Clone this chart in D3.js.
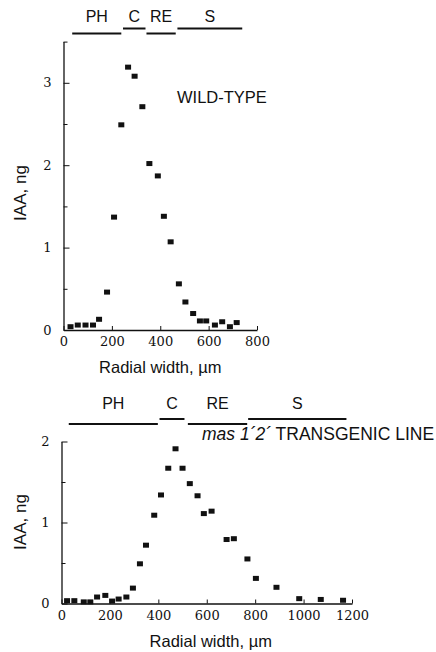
<!DOCTYPE html>
<html>
<head>
<meta charset="utf-8">
<script src="https://cdn.jsdelivr.net/npm/d3@7"></script>
<style>
  body { margin: 0; background: #fff; }
  svg { display: block; }
  .lbl { font-family: "Liberation Sans", Arial, sans-serif; fill: #111; }
</style>
</head>
<body>
<div id="chart"></div>
<script>
// wild-type: radial width (um) and IAA (ng)
const wtWidth = [29, 59, 91, 122, 147, 180, 209, 239, 267, 294, 326, 355, 390, 415, 443, 477, 504, 536, 564, 590, 626, 656, 688, 716];
const wtIAA = [0.04, 0.06, 0.06, 0.06, 0.13, 0.46, 1.37, 2.49, 3.19, 3.08, 2.71, 2.02, 1.87, 1.38, 1.07, 0.56, 0.34, 0.20, 0.11, 0.11, 0.06, 0.10, 0.04, 0.09];

// mas 1'2' transgenic line
const tgWidth = [23, 53, 92, 119, 147, 181, 209, 236, 268, 295, 324, 349, 383, 411, 441, 471, 500, 530, 562, 588, 620, 682, 712, 768, 803, 888, 982, 1071, 1163];
const tgIAA = [0.035, 0.035, 0.02, 0.02, 0.08, 0.10, 0.03, 0.055, 0.08, 0.19, 0.49, 0.72, 1.09, 1.34, 1.67, 1.91, 1.67, 1.48, 1.33, 1.11, 1.14, 0.79, 0.80, 0.55, 0.31, 0.20, 0.06, 0.05, 0.04];

// tissue zones (um)
const zoneNames = ["PH", "C", "RE", "S"];
const wtZones = [[36, 239], [246, 339], [343, 464], [471, 739]];
const tgZones = [[30, 398], [405, 508], [522, 767], [771, 1177]];

const wtXTicks = [0, 200, 400, 600, 800];
const wtYTicks = [0, 1, 2, 3];
const tgXTicks = [0, 200, 400, 600, 800, 1000, 1200];
const tgYTicks = [0, 1, 2];

const svg = d3.select("#chart").append("svg")
    .attr("width", 436)
    .attr("height", 652);

svg.append("rect").attr("width", 436).attr("height", 652).attr("fill", "#fff");

function panel(opt) {
    let x = d3.scaleLinear().domain(opt.xDomain).range(opt.xRange);
    let y = d3.scaleLinear().domain(opt.yDomain).range(opt.yRange);
    let g = svg.append("g");

    // minor y ticks at halves
    let minor = opt.yTicks.map(d => d + 0.5).filter(d => d <= opt.yDomain[1]);
    g.append("g")
        .attr("transform", `translate(${opt.xRange[0]},0)`)
        .call(d3.axisLeft(y).tickValues(minor).tickSize(-4).tickSizeOuter(0).tickFormat(""))
        .call(a => a.select(".domain").remove());

    g.append("g")
        .attr("class", "ax")
        .attr("transform", `translate(${opt.xRange[0]},0)`)
        .call(d3.axisLeft(y).tickValues(opt.yTicks).tickSize(-6).tickSizeOuter(0).tickPadding(12).tickFormat(d3.format("d")));

    g.append("g")
        .attr("class", "ax")
        .attr("transform", `translate(0,${opt.yRange[0]})`)
        .call(d3.axisBottom(x).tickValues(opt.xTicks).tickSize(-4).tickSizeOuter(0).tickPadding(7).tickFormat(d3.format("d")));

    g.selectAll("g.ax")
        .attr("font-family", "DejaVu Serif")
        .attr("font-size", 13);
    g.selectAll(".domain").attr("stroke", "#111").attr("stroke-width", 1.3);
    g.selectAll(".tick line").attr("stroke", "#111");
    g.selectAll(".tick text").attr("fill", "#111");

    g.selectAll("rect.pt")
        .data(opt.xs)
        .enter()
        .append("rect")
        .attr("class", "pt")
        .attr("x", d => x(d) - 3)
        .attr("y", (d, i) => y(opt.ys[i]) - 2.5)
        .attr("width", 6)
        .attr("height", 5)
        .attr("fill", "#111");

    // zone bars, alternating height
    g.selectAll("line.zone")
        .data(opt.zones)
        .enter()
        .append("line")
        .attr("class", "zone")
        .attr("x1", d => x(d[0]))
        .attr("x2", d => x(d[1]))
        .attr("y1", (d, i) => i % 2 ? opt.barY - 5 : opt.barY)
        .attr("y2", (d, i) => i % 2 ? opt.barY - 5 : opt.barY)
        .attr("stroke", "#111")
        .attr("stroke-width", 2);

    g.selectAll("text.zone")
        .data(opt.zones)
        .enter()
        .append("text")
        .attr("class", "lbl")
        .attr("x", d => x((d[0] + d[1]) / 2))
        .attr("y", opt.labelY)
        .attr("text-anchor", "middle")
        .style("font-size", "16px")
        .text((d, i) => zoneNames[i]);

    g.append("text")
        .attr("class", "lbl")
        .attr("x", (opt.xRange[0] + opt.xRange[1]) / 2 + opt.titleShift)
        .attr("y", opt.yRange[0] + 43)
        .attr("text-anchor", "middle")
        .style("font-size", "16.5px")
        .text("Radial width, \u00b5m");

    g.append("text")
        .attr("class", "lbl")
        .attr("transform", `translate(26,${opt.yTitle}) rotate(-90)`)
        .attr("text-anchor", "middle")
        .style("font-size", "17px")
        .text("IAA, ng");

    return { x, y, g };
}

let wtPanel = panel({
    xDomain: [0, 800], xRange: [63.5, 257],
    yDomain: [0, 3.5], yRange: [330, 41.6],
    xTicks: wtXTicks, yTicks: wtYTicks,
    xs: wtWidth, ys: wtIAA, zones: wtZones,
    barY: 33.5, labelY: 22, titleShift: 0, yTitle: 193
});

wtPanel.g.append("text")
    .attr("class", "lbl")
    .attr("x", 177)
    .attr("y", 103)
    .style("font-size", "16.5px")
    .text("WILD-TYPE");

let tgPanel = panel({
    xDomain: [0, 1200], xRange: [61.5, 352],
    yDomain: [0, 2], yRange: [603.5, 441.5],
    xTicks: tgXTicks, yTicks: tgYTicks,
    xs: tgWidth, ys: tgIAA, zones: tgZones,
    barY: 424, labelY: 408.5, titleShift: 4, yTitle: 522
});

let tl = tgPanel.g.append("text")
    .attr("class", "lbl")
    .attr("x", 202)
    .attr("y", 440)
    .style("font-size", "17.5px");
tl.append("tspan").style("font-style", "italic").text("mas 1\u00b42\u00b4");
tl.append("tspan").text(" TRANSGENIC LINE");
</script>
</body>
</html>
